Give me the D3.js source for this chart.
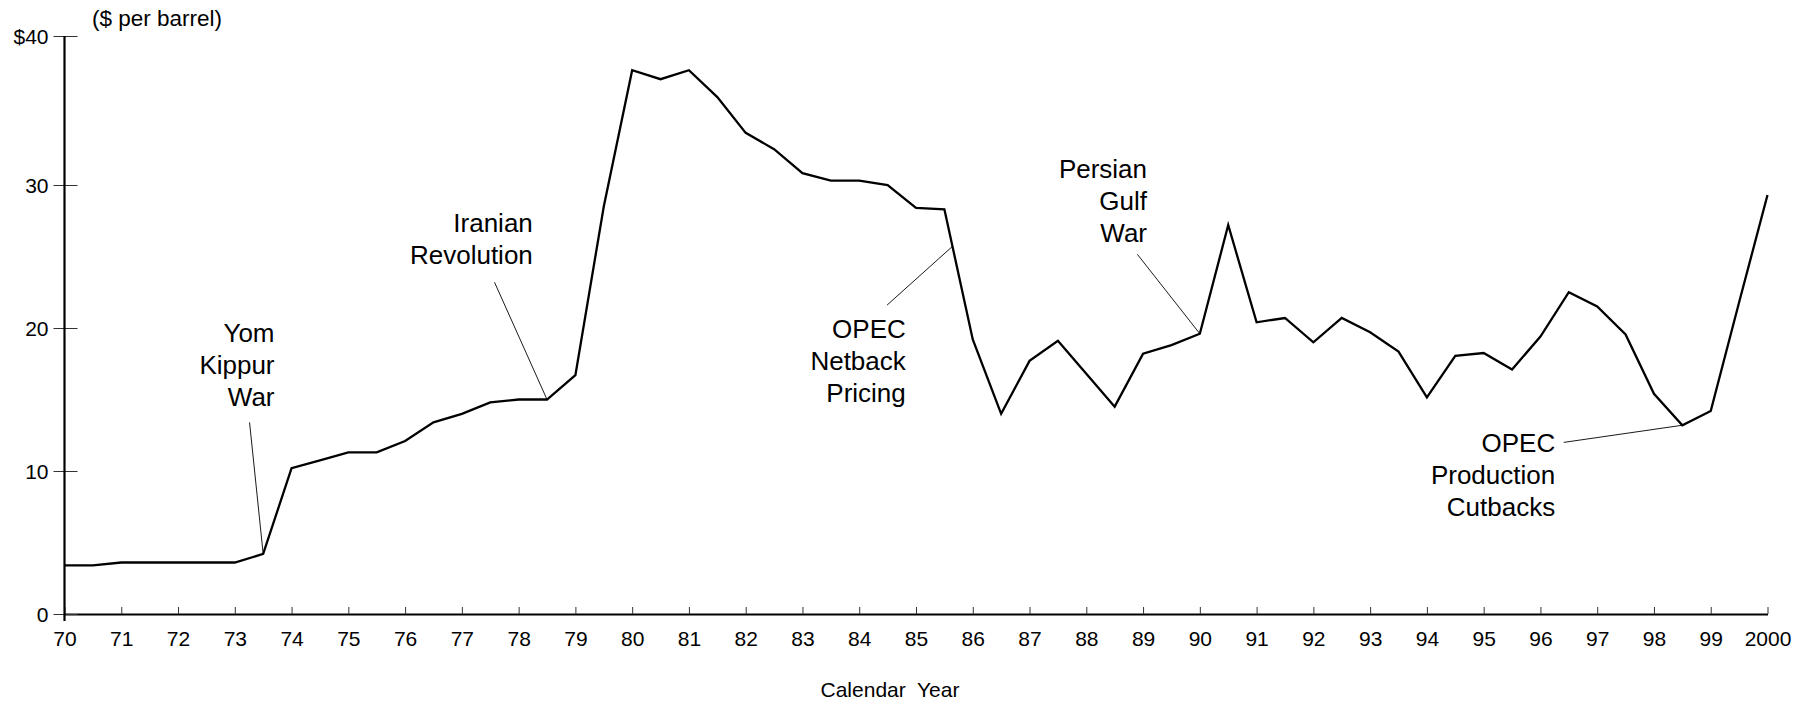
<!DOCTYPE html>
<html>
<head>
<meta charset="utf-8">
<script src="https://cdn.jsdelivr.net/npm/d3@7"></script>
<style>
    body { margin: 0; background: #fff; }
    #chart-area { width: 1811px; height: 704px; }
    text { font-family: "Liberation Sans", Arial, sans-serif; fill: #000; }
</style>
</head>
<body>
<div id="chart-area"></div>
<script>

// half-year observations, 1970 - 2000
let years = [1970, 1970.5, 1971, 1971.5, 1972, 1972.5, 1973, 1973.5, 1974, 1974.5,
    1975, 1975.5, 1976, 1976.5, 1977, 1977.5, 1978, 1978.5, 1979, 1979.5,
    1980, 1980.5, 1981, 1981.5, 1982, 1982.5, 1983, 1983.5, 1984, 1984.5,
    1985, 1985.5, 1986, 1986.5, 1987, 1987.5, 1988, 1988.5, 1989, 1989.5,
    1990, 1990.5, 1991, 1991.5, 1992, 1992.5, 1993, 1993.5, 1994, 1994.5,
    1995, 1995.5, 1996, 1996.5, 1997, 1997.5, 1998, 1998.5, 1999, 1999.5, 2000];

// $ per barrel
let prices = [3.4, 3.4, 3.6, 3.6, 3.6, 3.6, 3.6, 4.2, 10.2, 10.75,
    11.3, 11.3, 12.1, 13.4, 14.0, 14.8, 15.0, 15.0, 16.7, 28.5,
    37.7, 37.1, 37.7, 35.9, 33.5, 32.4, 30.8, 30.3, 30.3, 30.0,
    28.4, 28.3, 19.2, 14.0, 17.7, 19.1, 16.8, 14.5, 18.2, 18.8,
    19.6, 27.2, 20.4, 20.7, 19.0, 20.7, 19.7, 18.35, 15.15, 18.05,
    18.25, 17.1, 19.4, 22.5, 21.5, 19.55, 15.4, 13.2, 14.2, 21.8, 29.3];

let xTickValues = [1970, 1971, 1972, 1973, 1974, 1975, 1976, 1977, 1978, 1979,
    1980, 1981, 1982, 1983, 1984, 1985, 1986, 1987, 1988, 1989,
    1990, 1991, 1992, 1993, 1994, 1995, 1996, 1997, 1998, 1999, 2000];
let xTickLabels = ["70", "71", "72", "73", "74", "75", "76", "77", "78", "79",
    "80", "81", "82", "83", "84", "85", "86", "87", "88", "89",
    "90", "91", "92", "93", "94", "95", "96", "97", "98", "99", "2000"];

let yTickValues = [0, 10, 20, 30, 40];
let yTickLabels = ["0", "10", "20", "30", "$40"];

// event annotations: text lines and the point (year, price) each leader touches
let eventLines = [
    ["Yom", "Kippur", "War"],
    ["Iranian", "Revolution"],
    ["OPEC", "Netback", "Pricing"],
    ["Persian", "Gulf", "War"],
    ["OPEC", "Production", "Cutbacks"]
];
let eventPoints = [[1973.5, 4.2], [1978.5, 15.0], [1985.64, 25.7], [1990, 19.6], [1998.5, 13.2]];


class PriceChart {

    constructor(parentElement) {
        this.parentElement = parentElement;
        this.displayData = [];
        this.initVis();
    }

    initVis() {
        let vis = this;

        vis.width = 1811;
        vis.height = 704;

        vis.svg = d3.select("#" + vis.parentElement).append("svg")
            .attr("width", vis.width)
            .attr("height", vis.height);

        vis.svg.append("rect")
            .attr("width", vis.width)
            .attr("height", vis.height)
            .attr("fill", "#fff");

        // scales (the original axis is a bit stretched between 30 and 40)
        vis.x = d3.scaleLinear()
            .domain([1970, 2000])
            .range([64.5, 1767.5]);

        vis.y = d3.scaleLinear()
            .domain([0, 30, 40])
            .range([614, 185, 36]);

        // where each annotation sits: text anchor + leader start, in data units
        vis.labelLayout = [
            {text: [1973.70, 19.0], from: [1973.26, 13.4]},
            {text: [1978.25, 26.7], from: [1977.575, 23.2]},
            {text: [1984.82, 19.3], from: [1984.49, 21.6]},
            {text: [1989.07, 30.47], from: [1988.90, 25.15]},
            {text: [1996.26, 11.33], from: [1996.41, 12.0]}
        ];

        vis.wrangleData();
    }

    wrangleData() {
        let vis = this;

        vis.displayData = years.map((yr, i) => ({year: yr, price: prices[i]}));

        vis.events = eventLines.map((lines, i) => ({
            lines: lines,
            point: eventPoints[i],
            text: vis.labelLayout[i].text,
            from: vis.labelLayout[i].from
        }));

        vis.updateVis();
    }

    updateVis() {
        let vis = this;

        // x axis, ticks pointing up
        vis.xAxis = d3.axisBottom(vis.x)
            .tickValues(xTickValues)
            .tickFormat((d, i) => xTickLabels[i])
            .tickSizeInner(-7)
            .tickSizeOuter(0);

        let gx = vis.svg.append("g")
            .attr("class", "x-axis axis")
            .attr("transform", "translate(0," + vis.y(0) + ")")
            .call(vis.xAxis);

        gx.select(".domain")
            .attr("stroke", "#000")
            .attr("stroke-width", 2.2);
        gx.selectAll(".tick line")
            .attr("stroke", "#333")
            .attr("stroke-width", 1);
        gx.selectAll(".tick text")
            .attr("y", 32)
            .attr("dy", 0)
            .attr("font-size", 21)
            .attr("font-family", "Liberation Sans, Arial, sans-serif")
            .attr("fill", "#000");

        // y axis, ticks crossing the line
        vis.yAxis = d3.axisLeft(vis.y)
            .tickValues(yTickValues)
            .tickFormat((d, i) => yTickLabels[i])
            .tickSizeOuter(0);

        let gy = vis.svg.append("g")
            .attr("class", "y-axis axis")
            .attr("transform", "translate(" + vis.x(1970) + ",0)")
            .call(vis.yAxis);

        gy.select(".domain").remove();
        gy.selectAll(".tick line")
            .attr("x1", -11)
            .attr("x2", 13)
            .attr("stroke", "#333")
            .attr("stroke-width", 1);
        gy.selectAll(".tick text")
            .attr("x", -16)
            .attr("dy", "0.36em")
            .attr("font-size", 21)
            .attr("font-family", "Liberation Sans, Arial, sans-serif")
            .attr("fill", "#000");

        gy.append("line")
            .attr("x1", 0).attr("x2", 0)
            .attr("y1", vis.y(40))
            .attr("y2", vis.y(0) + 7)
            .attr("stroke", "#000")
            .attr("stroke-width", 2.2);

        // unit label + axis title
        vis.svg.append("text")
            .attr("x", 92)
            .attr("y", 26)
            .attr("font-size", 22.5)
            .text("($ per barrel)");

        vis.svg.append("text")
            .attr("x", 890)
            .attr("y", 697)
            .attr("text-anchor", "middle")
            .attr("font-size", 21)
            .style("white-space", "pre")
            .text("Calendar  Year");

        // price line
        vis.line = d3.line()
            .x(d => vis.x(d.year))
            .y(d => vis.y(d.price));

        vis.svg.append("path")
            .datum(vis.displayData)
            .attr("class", "line")
            .attr("d", vis.line)
            .attr("fill", "none")
            .attr("stroke", "#000")
            .attr("stroke-width", 2.3)
            .attr("stroke-linejoin", "miter");

        // annotations
        let ev = vis.svg.selectAll(".event")
            .data(vis.events)
            .enter().append("g")
            .attr("class", "event");

        ev.append("line")
            .attr("x1", d => vis.x(d.from[0]))
            .attr("y1", d => vis.y(d.from[1]))
            .attr("x2", d => vis.x(d.point[0]))
            .attr("y2", d => vis.y(d.point[1]))
            .attr("stroke", "#000")
            .attr("stroke-width", 0.9);

        ev.append("text")
            .attr("text-anchor", "end")
            .attr("font-size", 26)
            .attr("x", d => vis.x(d.text[0]))
            .attr("y", d => vis.y(d.text[1]))
            .selectAll("tspan")
            .data(d => d.lines.map(l => ({l: l, x: vis.x(d.text[0])})))
            .enter().append("tspan")
            .attr("x", t => t.x)
            .attr("dy", (t, i) => i === 0 ? 0 : 31.8)
            .text(t => t.l);
    }
}

new PriceChart("chart-area");

</script>
</body>
</html>
